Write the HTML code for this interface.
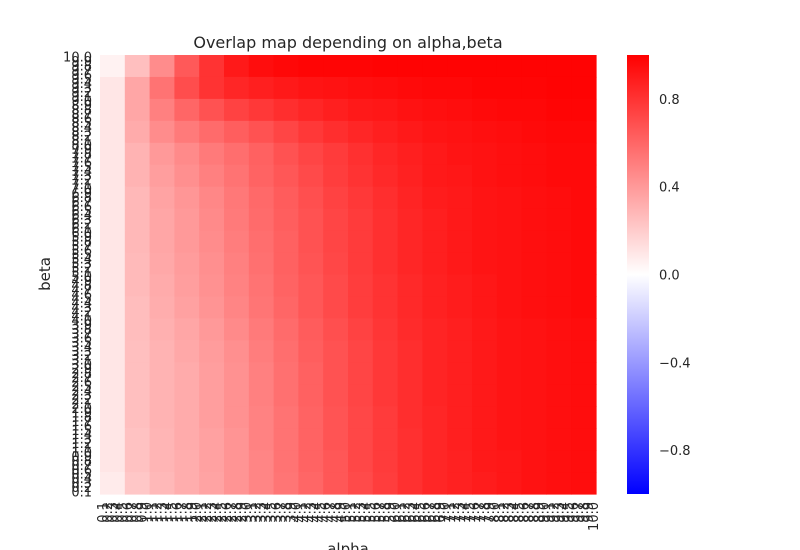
<!DOCTYPE html>
<html><head><meta charset="utf-8"><style>
html,body{margin:0;padding:0;background:#fff;}
svg{display:block;font-family:"DejaVu Sans","Liberation Sans",sans-serif;}
</style></head><body>
<svg id="chart" width="800" height="550" viewBox="0 0 800 550" xmlns="http://www.w3.org/2000/svg">
<text x="348" y="48" font-size="16" text-anchor="middle" fill="#262626">Overlap map depending on alpha,beta</text>
<g id="cells"></g>
<g id="yticks"></g>
<g id="xticks"></g>
<text transform="translate(50,274) rotate(-90)" font-size="15" text-anchor="middle" fill="#262626">beta</text>
<text x="348" y="554" font-size="15" text-anchor="middle" fill="#262626">alpha</text>
<defs><linearGradient id="bwr" x1="0" y1="1" x2="0" y2="0">
<stop offset="0" stop-color="#0000ff"/><stop offset="0.5" stop-color="#ffffff"/><stop offset="1" stop-color="#ff0000"/></linearGradient></defs>
<rect x="627" y="55" width="22" height="439" fill="url(#bwr)"/>
<g id="cbticks"></g>
</svg>
<script>
// Coarse estimated grid: 20 beta bands (top = beta 10) x 20 alpha bands (left = alpha 0.1)
const gridRows = [
[0.05,0.25,0.45,0.65,0.80,0.90,0.95,0.97,0.98,0.98,0.98,0.99,0.99,0.99,0.99,0.99,0.99,0.99,0.99,0.99],
[0.10,0.35,0.55,0.70,0.80,0.85,0.88,0.90,0.92,0.93,0.94,0.95,0.96,0.97,0.97,0.98,0.98,0.98,0.99,0.99],
[0.10,0.35,0.50,0.60,0.68,0.74,0.78,0.82,0.85,0.88,0.90,0.91,0.93,0.94,0.95,0.96,0.97,0.97,0.98,0.98],
[0.10,0.33,0.45,0.52,0.58,0.63,0.68,0.73,0.78,0.82,0.85,0.88,0.90,0.92,0.93,0.94,0.95,0.96,0.97,0.97],
[0.10,0.30,0.40,0.46,0.52,0.57,0.62,0.68,0.73,0.77,0.81,0.85,0.88,0.90,0.92,0.93,0.94,0.95,0.96,0.96],
[0.10,0.30,0.38,0.44,0.50,0.55,0.61,0.66,0.71,0.76,0.80,0.84,0.87,0.90,0.91,0.93,0.94,0.95,0.96,0.96],
[0.10,0.28,0.36,0.41,0.47,0.53,0.59,0.64,0.69,0.74,0.78,0.82,0.86,0.89,0.90,0.92,0.93,0.94,0.95,0.96],
[0.10,0.28,0.35,0.40,0.46,0.52,0.58,0.63,0.68,0.73,0.77,0.81,0.85,0.88,0.90,0.92,0.93,0.94,0.95,0.96],
[0.10,0.28,0.35,0.40,0.45,0.51,0.57,0.62,0.68,0.73,0.77,0.81,0.85,0.88,0.90,0.92,0.93,0.94,0.95,0.96],
[0.10,0.27,0.34,0.39,0.44,0.50,0.56,0.62,0.67,0.72,0.77,0.81,0.85,0.88,0.90,0.92,0.93,0.94,0.95,0.96],
[0.10,0.27,0.33,0.38,0.43,0.49,0.55,0.61,0.66,0.71,0.76,0.80,0.84,0.87,0.89,0.91,0.93,0.94,0.95,0.96],
[0.10,0.26,0.32,0.37,0.42,0.48,0.54,0.60,0.66,0.71,0.76,0.80,0.84,0.87,0.89,0.91,0.93,0.94,0.95,0.96],
[0.10,0.26,0.31,0.35,0.40,0.46,0.52,0.58,0.64,0.69,0.74,0.79,0.83,0.86,0.88,0.90,0.92,0.93,0.94,0.95],
[0.10,0.25,0.30,0.34,0.39,0.44,0.51,0.57,0.63,0.68,0.73,0.78,0.82,0.86,0.88,0.90,0.92,0.93,0.94,0.95],
[0.10,0.25,0.30,0.33,0.38,0.43,0.50,0.56,0.62,0.68,0.73,0.78,0.82,0.86,0.88,0.90,0.92,0.93,0.94,0.95],
[0.10,0.25,0.30,0.33,0.38,0.43,0.50,0.56,0.62,0.68,0.73,0.78,0.82,0.86,0.88,0.90,0.92,0.93,0.94,0.95],
[0.10,0.25,0.30,0.33,0.38,0.43,0.49,0.55,0.61,0.67,0.72,0.77,0.82,0.85,0.88,0.90,0.92,0.93,0.94,0.95],
[0.10,0.24,0.29,0.33,0.37,0.42,0.49,0.55,0.61,0.67,0.72,0.77,0.81,0.85,0.88,0.90,0.92,0.93,0.94,0.95],
[0.10,0.24,0.29,0.32,0.37,0.42,0.48,0.55,0.61,0.66,0.72,0.77,0.81,0.85,0.87,0.90,0.91,0.93,0.94,0.95],
[0.08,0.22,0.28,0.32,0.36,0.42,0.48,0.54,0.60,0.66,0.71,0.76,0.81,0.85,0.87,0.89,0.91,0.93,0.94,0.95]
];
const alphaLabels = [];
for (let i = 1; i <= 100; i++) alphaLabels.push((i / 10).toFixed(1));
const betaLabels = alphaLabels.slice().reverse();
const cbTicks = [0.8, 0.4, 0.0, -0.4, -0.8];

const X0 = 100, X1 = 596, Y0 = 55, Y1 = 494;
const nCols = alphaLabels.length, nRows = betaLabels.length;
const cw = (X1 - X0) / nCols, ch = (Y1 - Y0) / nRows;
const gC = gridRows[0].length, gR = gridRows.length;
const bw = (X1 - X0) / gC, bh = (Y1 - Y0) / gR;
function xPos(c) { return X0 + c * bw; }
function yPos(r) { return Y0 + r * bh; }
function cbY(v) { return Y0 + (1 - v) / 2 * (Y1 - Y0); }
function color(v) {
  let r, g, b;
  if (v >= 0) { r = 255; g = b = Math.round(255 * (1 - v)); }
  else { b = 255; r = g = Math.round(255 * (1 + v)); }
  return `rgb(${r},${g},${b})`;
}
const NS = "http://www.w3.org/2000/svg";
const cells = document.getElementById("cells");
gridRows.forEach((row, r) => row.forEach((v, c) => {
  const el = document.createElementNS(NS, "rect");
  
  
  el.setAttribute("x", xPos(c)); el.setAttribute("y", yPos(r));
  el.setAttribute("width", bw + 0.6); el.setAttribute("height", bh + 0.6);
  el.setAttribute("fill", color(v));
  cells.appendChild(el);
}));
const yt = document.getElementById("yticks");
betaLabels.forEach((lab, i) => {
  const t = document.createElementNS(NS, "text");
  
  
  t.setAttribute("x", 92); t.setAttribute("y", Y0 + (i + 0.5) * ch + 4.5);
  t.setAttribute("text-anchor", "end"); t.setAttribute("font-size", "13"); t.setAttribute("fill", "#262626");
  t.textContent = lab; yt.appendChild(t);
});
const xt = document.getElementById("xticks");
alphaLabels.forEach((lab, i) => {
  const t = document.createElementNS(NS, "text");
  
  
  const x = X0 + (i + 0.5) * cw + 4.5;
  t.setAttribute("transform", `translate(${x},502) rotate(-90)`);
  t.setAttribute("text-anchor", "end"); t.setAttribute("font-size", "13"); t.setAttribute("fill", "#262626");
  t.textContent = lab; xt.appendChild(t);
});
const cbt = document.getElementById("cbticks");
cbTicks.forEach(v => {
  const t = document.createElementNS(NS, "text");
  
  
  t.setAttribute("x", 659); t.setAttribute("y", cbY(v) + 5);
  t.setAttribute("font-size", "13"); t.setAttribute("fill", "#262626");
  t.textContent = v < 0 ? "\u2212" + Math.abs(v).toFixed(1) : v.toFixed(1);
  cbt.appendChild(t);
});
</script>
</body></html>
